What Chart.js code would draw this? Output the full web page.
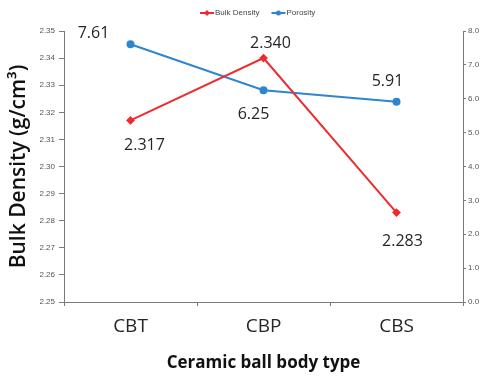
<!DOCTYPE html>
<html>
<head>
<meta charset="utf-8">
<script src="https://cdn.jsdelivr.net/npm/chart.js@4"></script>
<style>
  html, body { margin: 0; padding: 0; background: #fff; }
  #wrap { width: 486px; height: 376px; }
</style>
</head>
<body>
<div id="wrap"><canvas id="chart" width="486" height="376"></canvas></div>
<script>
const categories = ['CBT', 'CBP', 'CBS'];
const bulkDensity = [2.317, 2.340, 2.283];
const porosity = [7.61, 6.25, 5.91];
const bulkLabels = ['2.317', '2.340', '2.283'];
const porosityLabels = ['7.61', '6.25', '5.91'];

// where each value label sits, relative to its point
const bulkOffsets = [[14, 25], [7, -15], [6, 29]];
const porosityOffsets = [[-37, -11], [-10, 24], [-9, -20]];

const RED = '#ee2b2f';
const BLUE = '#2d86cf';

const valueLabels = {
  id: 'valueLabels',
  afterDatasetsDraw(chart) {
    const ctx = chart.ctx;
    ctx.save();
    ctx.font = '16px "Open Sans"';
    ctx.fillStyle = '#262626';
    ctx.textAlign = 'center';
    ctx.textBaseline = 'middle';
    const sets = [[bulkLabels, bulkOffsets], [porosityLabels, porosityOffsets]];
    sets.forEach(([texts, offs], i) => {
      chart.getDatasetMeta(i).data.forEach((pt, j) => {
        ctx.fillText(texts[j], pt.x + offs[j][0], pt.y + offs[j][1]);
      });
    });
    ctx.restore();
  }
};

// small legend at the top: line with marker, then label
const topLegend = {
  id: 'topLegend',
  afterDraw(chart) {
    const ctx = chart.ctx;
    ctx.save();
    ctx.font = '8px "Liberation Sans"';
    ctx.textBaseline = 'middle';
    ctx.fillStyle = '#444';
    let x = 200;
    const y = 13;
    chart.data.datasets.forEach(ds => {
      ctx.strokeStyle = ds.borderColor;
      ctx.lineWidth = 2;
      ctx.beginPath();
      ctx.moveTo(x, y);
      ctx.lineTo(x + 14, y);
      ctx.stroke();
      ctx.fillStyle = ds.borderColor;
      ctx.beginPath();
      if (ds.pointStyle === 'rectRot') {
        ctx.moveTo(x + 7, y - 3); ctx.lineTo(x + 10, y); ctx.lineTo(x + 7, y + 3); ctx.lineTo(x + 4, y);
      } else {
        ctx.arc(x + 7, y, 2.5, 0, Math.PI * 2);
      }
      ctx.fill();
      ctx.fillStyle = '#444';
      ctx.fillText(ds.label, x + 15, y);
      x += 15 + ctx.measureText(ds.label).width + 12;
    });
    ctx.restore();
  }
};

const tickFont = { family: '"Liberation Sans"', size: 8 };

new Chart(document.getElementById('chart'), {
  type: 'line',
  data: {
    labels: categories,
    datasets: [
      {
        label: 'Bulk Density',
        data: bulkDensity,
        borderColor: RED,
        backgroundColor: RED,
        borderWidth: 2,
        pointStyle: 'rectRot',
        pointRadius: 3,
        yAxisID: 'y'
      },
      {
        label: 'Porosity',
        data: porosity,
        borderColor: BLUE,
        backgroundColor: BLUE,
        borderWidth: 2,
        pointStyle: 'circle',
        pointRadius: 3,
        yAxisID: 'y1'
      }
    ]
  },
  options: {
    responsive: false,
    animation: false,
    layout: { padding: { top: 31, left: 0, right: 0, bottom: 0 } },
    plugins: {
      legend: { display: false },
      tooltip: { enabled: false }
    },
    scales: {
      x: {
        offset: true,
        afterFit(scale) { scale.height = 74; },
        grid: { drawOnChartArea: false, tickLength: 4, color: '#7a7a7a', offset: true },
        border: { color: '#7a7a7a', width: 1 },
        ticks: { font: { family: '"Open Sans"', size: 19 }, color: '#262626', padding: 9 },
        title: {
          display: true,
          text: 'Ceramic ball body type',
          font: { family: '"Open Sans"', size: 17, weight: 'bold' },
          color: '#111',
          padding: { top: 0, bottom: 3 }
        }
      },
      y: {
        position: 'left',
        min: 2.25,
        max: 2.35,
        afterFit(scale) { scale.width = 64; },
        grid: { drawOnChartArea: false, tickLength: 5, color: '#7a7a7a' },
        border: { color: '#7a7a7a', width: 1 },
        ticks: {
          stepSize: 0.01,
          font: tickFont,
          color: '#555',
          padding: 4,
          callback: v => v.toFixed(2)
        },
        title: {
          display: true,
          text: 'Bulk Density (g/cm³)',
          font: { family: '"Open Sans"', size: 21, weight: '600' },
          color: '#111',
          padding: { top: 6, bottom: 0 }
        }
      },
      y1: {
        position: 'right',
        min: 0,
        max: 8,
        afterFit(scale) { scale.width = 23; },
        grid: { drawOnChartArea: false, tickLength: 3, color: '#7a7a7a' },
        border: { color: '#7a7a7a', width: 1 },
        ticks: {
          stepSize: 1,
          font: tickFont,
          color: '#555',
          padding: 2,
          callback: v => v.toFixed(1)
        }
      }
    }
  },
  plugins: [valueLabels, topLegend]
});
</script>
</body>
</html>
